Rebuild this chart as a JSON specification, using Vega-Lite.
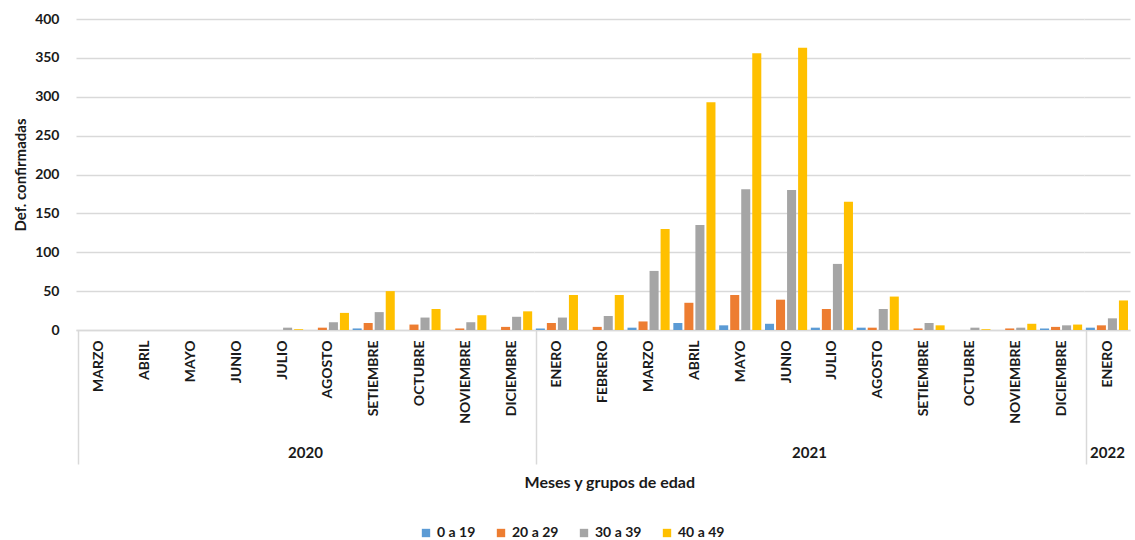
{
  "$schema": "https://vega.github.io/schema/vega-lite/v6.json",
  "padding": {"left": 13, "top": 12, "right": 2, "bottom": 2},
  "background": "white",
  "datasets": {
    "d": [
      {"anio": "2020", "mes": "MARZO", "grupo": "0 a 19", "valor": 0},
      {"anio": "2020", "mes": "MARZO", "grupo": "20 a 29", "valor": 0},
      {"anio": "2020", "mes": "MARZO", "grupo": "30 a 39", "valor": 0},
      {"anio": "2020", "mes": "MARZO", "grupo": "40 a 49", "valor": 0},
      {"anio": "2020", "mes": "ABRIL", "grupo": "0 a 19", "valor": 0},
      {"anio": "2020", "mes": "ABRIL", "grupo": "20 a 29", "valor": 0},
      {"anio": "2020", "mes": "ABRIL", "grupo": "30 a 39", "valor": 0},
      {"anio": "2020", "mes": "ABRIL", "grupo": "40 a 49", "valor": 0},
      {"anio": "2020", "mes": "MAYO", "grupo": "0 a 19", "valor": 0},
      {"anio": "2020", "mes": "MAYO", "grupo": "20 a 29", "valor": 0},
      {"anio": "2020", "mes": "MAYO", "grupo": "30 a 39", "valor": 0},
      {"anio": "2020", "mes": "MAYO", "grupo": "40 a 49", "valor": 0},
      {"anio": "2020", "mes": "JUNIO", "grupo": "0 a 19", "valor": 0},
      {"anio": "2020", "mes": "JUNIO", "grupo": "20 a 29", "valor": 0},
      {"anio": "2020", "mes": "JUNIO", "grupo": "30 a 39", "valor": 0},
      {"anio": "2020", "mes": "JUNIO", "grupo": "40 a 49", "valor": 0},
      {"anio": "2020", "mes": "JULIO", "grupo": "0 a 19", "valor": 0},
      {"anio": "2020", "mes": "JULIO", "grupo": "20 a 29", "valor": 0},
      {"anio": "2020", "mes": "JULIO", "grupo": "30 a 39", "valor": 3},
      {"anio": "2020", "mes": "JULIO", "grupo": "40 a 49", "valor": 1},
      {"anio": "2020", "mes": "AGOSTO", "grupo": "0 a 19", "valor": 0},
      {"anio": "2020", "mes": "AGOSTO", "grupo": "20 a 29", "valor": 3},
      {"anio": "2020", "mes": "AGOSTO", "grupo": "30 a 39", "valor": 10},
      {"anio": "2020", "mes": "AGOSTO", "grupo": "40 a 49", "valor": 22},
      {"anio": "2020", "mes": "SETIEMBRE", "grupo": "0 a 19", "valor": 2},
      {"anio": "2020", "mes": "SETIEMBRE", "grupo": "20 a 29", "valor": 9},
      {"anio": "2020", "mes": "SETIEMBRE", "grupo": "30 a 39", "valor": 23},
      {"anio": "2020", "mes": "SETIEMBRE", "grupo": "40 a 49", "valor": 50},
      {"anio": "2020", "mes": "OCTUBRE", "grupo": "0 a 19", "valor": 0},
      {"anio": "2020", "mes": "OCTUBRE", "grupo": "20 a 29", "valor": 7},
      {"anio": "2020", "mes": "OCTUBRE", "grupo": "30 a 39", "valor": 16},
      {"anio": "2020", "mes": "OCTUBRE", "grupo": "40 a 49", "valor": 27},
      {"anio": "2020", "mes": "NOVIEMBRE", "grupo": "0 a 19", "valor": 0},
      {"anio": "2020", "mes": "NOVIEMBRE", "grupo": "20 a 29", "valor": 2},
      {"anio": "2020", "mes": "NOVIEMBRE", "grupo": "30 a 39", "valor": 10},
      {"anio": "2020", "mes": "NOVIEMBRE", "grupo": "40 a 49", "valor": 19},
      {"anio": "2020", "mes": "DICIEMBRE", "grupo": "0 a 19", "valor": 0},
      {"anio": "2020", "mes": "DICIEMBRE", "grupo": "20 a 29", "valor": 4},
      {"anio": "2020", "mes": "DICIEMBRE", "grupo": "30 a 39", "valor": 17},
      {"anio": "2020", "mes": "DICIEMBRE", "grupo": "40 a 49", "valor": 24},
      {"anio": "2021", "mes": "ENERO", "grupo": "0 a 19", "valor": 2},
      {"anio": "2021", "mes": "ENERO", "grupo": "20 a 29", "valor": 9},
      {"anio": "2021", "mes": "ENERO", "grupo": "30 a 39", "valor": 16},
      {"anio": "2021", "mes": "ENERO", "grupo": "40 a 49", "valor": 45},
      {"anio": "2021", "mes": "FEBRERO", "grupo": "0 a 19", "valor": 0},
      {"anio": "2021", "mes": "FEBRERO", "grupo": "20 a 29", "valor": 4},
      {"anio": "2021", "mes": "FEBRERO", "grupo": "30 a 39", "valor": 18},
      {"anio": "2021", "mes": "FEBRERO", "grupo": "40 a 49", "valor": 45},
      {"anio": "2021", "mes": "MARZO", "grupo": "0 a 19", "valor": 3},
      {"anio": "2021", "mes": "MARZO", "grupo": "20 a 29", "valor": 11},
      {"anio": "2021", "mes": "MARZO", "grupo": "30 a 39", "valor": 76},
      {"anio": "2021", "mes": "MARZO", "grupo": "40 a 49", "valor": 130},
      {"anio": "2021", "mes": "ABRIL", "grupo": "0 a 19", "valor": 9},
      {"anio": "2021", "mes": "ABRIL", "grupo": "20 a 29", "valor": 35},
      {"anio": "2021", "mes": "ABRIL", "grupo": "30 a 39", "valor": 135},
      {"anio": "2021", "mes": "ABRIL", "grupo": "40 a 49", "valor": 293},
      {"anio": "2021", "mes": "MAYO", "grupo": "0 a 19", "valor": 6},
      {"anio": "2021", "mes": "MAYO", "grupo": "20 a 29", "valor": 45},
      {"anio": "2021", "mes": "MAYO", "grupo": "30 a 39", "valor": 181},
      {"anio": "2021", "mes": "MAYO", "grupo": "40 a 49", "valor": 356},
      {"anio": "2021", "mes": "JUNIO", "grupo": "0 a 19", "valor": 8},
      {"anio": "2021", "mes": "JUNIO", "grupo": "20 a 29", "valor": 39},
      {"anio": "2021", "mes": "JUNIO", "grupo": "30 a 39", "valor": 180},
      {"anio": "2021", "mes": "JUNIO", "grupo": "40 a 49", "valor": 363},
      {"anio": "2021", "mes": "JULIO", "grupo": "0 a 19", "valor": 3},
      {"anio": "2021", "mes": "JULIO", "grupo": "20 a 29", "valor": 27},
      {"anio": "2021", "mes": "JULIO", "grupo": "30 a 39", "valor": 85},
      {"anio": "2021", "mes": "JULIO", "grupo": "40 a 49", "valor": 165},
      {"anio": "2021", "mes": "AGOSTO", "grupo": "0 a 19", "valor": 3},
      {"anio": "2021", "mes": "AGOSTO", "grupo": "20 a 29", "valor": 3},
      {"anio": "2021", "mes": "AGOSTO", "grupo": "30 a 39", "valor": 27},
      {"anio": "2021", "mes": "AGOSTO", "grupo": "40 a 49", "valor": 43},
      {"anio": "2021", "mes": "SETIEMBRE", "grupo": "0 a 19", "valor": 0},
      {"anio": "2021", "mes": "SETIEMBRE", "grupo": "20 a 29", "valor": 2},
      {"anio": "2021", "mes": "SETIEMBRE", "grupo": "30 a 39", "valor": 9},
      {"anio": "2021", "mes": "SETIEMBRE", "grupo": "40 a 49", "valor": 6},
      {"anio": "2021", "mes": "OCTUBRE", "grupo": "0 a 19", "valor": 0},
      {"anio": "2021", "mes": "OCTUBRE", "grupo": "20 a 29", "valor": 0},
      {"anio": "2021", "mes": "OCTUBRE", "grupo": "30 a 39", "valor": 3},
      {"anio": "2021", "mes": "OCTUBRE", "grupo": "40 a 49", "valor": 1},
      {"anio": "2021", "mes": "NOVIEMBRE", "grupo": "0 a 19", "valor": 0},
      {"anio": "2021", "mes": "NOVIEMBRE", "grupo": "20 a 29", "valor": 2},
      {"anio": "2021", "mes": "NOVIEMBRE", "grupo": "30 a 39", "valor": 3},
      {"anio": "2021", "mes": "NOVIEMBRE", "grupo": "40 a 49", "valor": 8},
      {"anio": "2021", "mes": "DICIEMBRE", "grupo": "0 a 19", "valor": 2},
      {"anio": "2021", "mes": "DICIEMBRE", "grupo": "20 a 29", "valor": 4},
      {"anio": "2021", "mes": "DICIEMBRE", "grupo": "30 a 39", "valor": 6},
      {"anio": "2021", "mes": "DICIEMBRE", "grupo": "40 a 49", "valor": 7},
      {"anio": "2022", "mes": "ENERO", "grupo": "0 a 19", "valor": 3},
      {"anio": "2022", "mes": "ENERO", "grupo": "20 a 29", "valor": 6},
      {"anio": "2022", "mes": "ENERO", "grupo": "30 a 39", "valor": 15},
      {"anio": "2022", "mes": "ENERO", "grupo": "40 a 49", "valor": 38}
    ]
  },
  "data": {"name": "d"},
  "resolve": {"scale": {"color": "shared"}},
  "vconcat": [
    {
      "title": {"text": "Meses y grupos de edad", "orient": "bottom", "anchor": "middle", "frame": "bounds", "dx": 38, "fontSize": 16, "fontWeight": "bold", "font": "Lato", "color": "#1a1a1a", "offset": 10},
      "spacing": 0,
      "bounds": "flush",
      "resolve": {"scale": {"color": "shared", "y": "shared"}},
      "hconcat": [
        {
          "width": 458, "height": 311,
          "transform": [{"filter": "datum.anio === '2020'"}],
          "mark": {"type": "bar"},
          "encoding": {
            "x": {"field": "mes", "type": "nominal",
              "sort": ["MARZO", "ABRIL", "MAYO", "JUNIO", "JULIO", "AGOSTO", "SETIEMBRE", "OCTUBRE", "NOVIEMBRE", "DICIEMBRE"],
              "scale": {"paddingInner": 0.08, "paddingOuter": 0.04},
              "axis": {"title": "2020", "titleY": 122, "titleBaseline": "middle", "labelAngle": -90, "tickBand": "extent", "tickSize": 134, "tickColor": "#D9D9D9", "tickWidth": 1.5,
                "tickOpacity": {"condition": {"test": "datum.extra", "value": 1}, "value": 0},
                "labelPadding": -124}},
            "xOffset": {"field": "grupo", "type": "nominal", "sort": ["0 a 19", "20 a 29", "30 a 39", "40 a 49"], "scale": {"paddingInner": 0.18}},
            "y": {"field": "valor", "type": "quantitative", "scale": {"domain": [0, 400]},
              "axis": {"title": "Def. confirmadas", "values": [0, 50, 100, 150, 200, 250, 300, 350, 400], "ticks": false, "domain": false, "labelPadding": 17, "labelFontSize": 14, "labelFontWeight": "bold", "titleFontSize": 15, "titleFontWeight": "bold", "titlePadding": 6}},
            "color": {"field": "grupo", "type": "nominal", "scale": {"domain": ["0 a 19", "20 a 29", "30 a 39", "40 a 49"], "range": ["#5B9BD5", "#ED7D31", "#A5A5A5", "#FFC000"]}, "legend": {"title": null}}
          }
        },
        {
          "width": 550, "height": 311,
          "transform": [{"filter": "datum.anio === '2021'"}],
          "mark": {"type": "bar"},
          "encoding": {
            "x": {"field": "mes", "type": "nominal",
              "sort": ["ENERO", "FEBRERO", "MARZO", "ABRIL", "MAYO", "JUNIO", "JULIO", "AGOSTO", "SETIEMBRE", "OCTUBRE", "NOVIEMBRE", "DICIEMBRE"],
              "scale": {"paddingInner": 0.08, "paddingOuter": 0.04},
              "axis": {"title": "2021", "titleY": 122, "titleBaseline": "middle", "labelAngle": -90, "tickBand": "extent", "tickSize": 134, "tickColor": "#D9D9D9", "tickWidth": 1.5,
                "tickOpacity": {"condition": {"test": "datum.extra", "value": 1}, "value": 0},
                "labelPadding": -124}},
            "xOffset": {"field": "grupo", "type": "nominal", "sort": ["0 a 19", "20 a 29", "30 a 39", "40 a 49"], "scale": {"paddingInner": 0.18}},
            "y": {"field": "valor", "type": "quantitative", "scale": {"domain": [0, 400]},
              "axis": {"title": null, "labels": false, "values": [0, 50, 100, 150, 200, 250, 300, 350, 400], "ticks": false, "domain": false}},
            "color": {"field": "grupo", "type": "nominal", "scale": {"domain": ["0 a 19", "20 a 29", "30 a 39", "40 a 49"], "range": ["#5B9BD5", "#ED7D31", "#A5A5A5", "#FFC000"]}, "legend": {"title": null}}
          }
        },
        {
          "width": 46, "height": 311,
          "transform": [{"filter": "datum.anio === '2022'"}],
          "mark": {"type": "bar"},
          "encoding": {
            "x": {"field": "mes", "type": "nominal",
              "sort": ["ENERO"],
              "scale": {"paddingInner": 0.08, "paddingOuter": 0.04},
              "axis": {"title": "2022", "titleY": 122, "titleBaseline": "middle", "labelAngle": -90, "tickBand": "extent", "tickSize": 134, "tickColor": "#D9D9D9", "tickWidth": 1.5,
                "tickOpacity": {"condition": {"test": "datum.extra || datum.index === 1", "value": 1}, "value": 0},
                "labelPadding": -124}},
            "xOffset": {"field": "grupo", "type": "nominal", "sort": ["0 a 19", "20 a 29", "30 a 39", "40 a 49"], "scale": {"paddingInner": 0.18}},
            "y": {"field": "valor", "type": "quantitative", "scale": {"domain": [0, 400]},
              "axis": {"title": null, "labels": false, "values": [0, 50, 100, 150, 200, 250, 300, 350, 400], "ticks": false, "domain": false}},
            "color": {"field": "grupo", "type": "nominal", "scale": {"domain": ["0 a 19", "20 a 29", "30 a 39", "40 a 49"], "range": ["#5B9BD5", "#ED7D31", "#A5A5A5", "#FFC000"]}, "legend": {"title": null}}
          }
        }
      ]
    }
  ],
  "config": {
    "font": "Lato",
    "view": {"stroke": null},
    "axis": {"labelFont": "Lato", "titleFont": "Lato", "labelColor": "#1a1a1a", "titleColor": "#1a1a1a", "gridColor": "#D9D9D9", "gridWidth": 1.5, "domainColor": "#D9D9D9", "domainWidth": 1.5},
    "axisX": {"labelFontSize": 14, "labelFontWeight": "bold", "titleFontSize": 15, "titleFontWeight": "bold", "grid": false},
    "legend": {"orient": "bottom", "direction": "horizontal", "symbolType": "square", "symbolSize": 70, "symbolStrokeWidth": 0, "labelFontSize": 14, "labelFontWeight": "bold", "labelFont": "Lato", "labelColor": "#1a1a1a", "columnPadding": 18, "offset": 35, "layout": {"bottom": {"anchor": "middle"}}}
  }
}
